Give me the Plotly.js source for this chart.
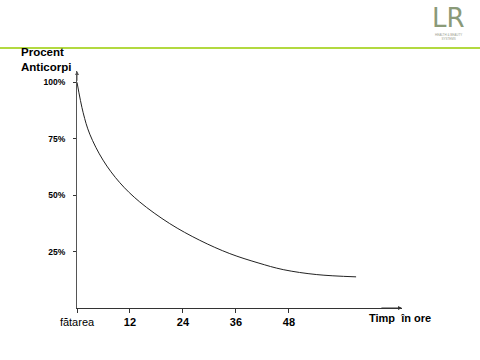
<!DOCTYPE html>
<html>
<head>
<meta charset="utf-8">
<script src="https://cdn.plot.ly/plotly-3.0.1.min.js"></script>
<style>html,body{margin:0;padding:0;background:#fff;}#chart{width:480px;height:360px;}</style>
</head>
<body>
<div id="chart"></div>
<script>
// Data (hours after birth, percent antibodies)
const hours   = [0, 1.4, 2.9, 5.9, 9.7, 14.2, 21.0, 27.8, 34.6, 41.0, 46.7, 54.3, 63.2];
const percent = [100, 86.5, 77.0, 65.5, 55.5, 47.0, 37.4, 30.0, 24.1, 20.0, 17.0, 14.8, 13.8];
const xTickVals = [0, 12, 24, 36, 48];
const xTickText = ['fătarea', '<b>12</b>', '<b>24</b>', '<b>36</b>', '<b>48</b>'];
const yTickVals = [25, 50, 75, 100];
const yTickText = ['<b>25%</b>', '<b>50%</b>', '<b>75%</b>', '<b>100%</b>'];
const xMax = 73.6, yMax = 105;

const trace = {
  x: hours, y: percent, type: 'scatter', mode: 'lines',
  line: {color: '#222', width: 1, shape: 'spline', smoothing: 1},
  hoverinfo: 'skip'
};

const layout = {
  width: 480, height: 360,
  margin: {l: 77, r: 78, t: 71, b: 52},
  paper_bgcolor: '#fff', plot_bgcolor: '#fff',
  showlegend: false,
  font: {family: 'Liberation Sans, Arial, sans-serif', color: '#000'},
  xaxis: {
    range: [0, xMax], showgrid: false, zeroline: false,
    showline: true, linecolor: '#333', linewidth: 1,
    tickmode: 'array', tickvals: xTickVals, ticktext: xTickText,
    ticks: 'outside', ticklen: 4, tickcolor: '#333',
    tickfont: {size: 11, color: '#000'}
  },
  yaxis: {
    range: [0, yMax], showgrid: false, zeroline: false,
    showline: true, linecolor: '#555', linewidth: 1,
    tickmode: 'array', tickvals: yTickVals, ticktext: yTickText,
    ticks: 'outside', ticklen: 3, tickcolor: '#333',
    ticklabelstandoff: 6,
    tickfont: {size: 8.5, color: '#000'}
  },
  shapes: [
    {type: 'line', xref: 'paper', yref: 'paper', x0: -0.25, x1: 1.25,
     y0: 1.097, y1: 1.097, line: {color: '#99cc00', width: 1.5}}
  ],
  annotations: [
    {x: xMax, y: 0, ax: xMax - 5, ay: 0, xref: 'x', yref: 'y', axref: 'x', ayref: 'y',
     text: '', showarrow: true, arrowhead: 2, arrowsize: 0.8, arrowwidth: 1, arrowcolor: '#333'},
    {x: 0, y: yMax, ax: 0, ay: yMax - 5, xref: 'x', yref: 'y', axref: 'x', ayref: 'y',
     text: '', showarrow: true, arrowhead: 2, arrowsize: 0.8, arrowwidth: 1, arrowcolor: '#555'},
    {xref: 'paper', yref: 'paper', x: 1.094, y: -0.0435, xanchor: 'right', yanchor: 'middle',
     text: '<b>Timp  în ore</b>', showarrow: false, font: {size: 11, color: '#000'}},
    {xref: 'paper', yref: 'paper', x: -0.177, y: 1.081, xanchor: 'left', yanchor: 'middle',
     text: '<b>Procent</b>', showarrow: false, font: {size: 11.5, color: '#000'}},
    {xref: 'paper', yref: 'paper', x: -0.177, y: 1.018, xanchor: 'left', yanchor: 'middle',
     text: '<b>Anticorpi</b>', showarrow: false, font: {size: 11.5, color: '#000'}},
    {xref: 'paper', yref: 'paper', x: 1.144, y: 1.224, xanchor: 'center', yanchor: 'middle',
     text: 'LR', showarrow: false, font: {size: 26, color: '#8a9a78', family: 'DejaVu Sans'}},
    {xref: 'paper', yref: 'paper', x: 1.144, y: 1.145, xanchor: 'center', yanchor: 'middle',
     text: 'HEALTH & BEAUTY<br>SYSTEMS', showarrow: false, font: {size: 3, color: '#9aa090'}}
  ]
};

Plotly.newPlot('chart', [trace], layout, {staticPlot: true, displayModeBar: false});
</script>
</body>
</html>
